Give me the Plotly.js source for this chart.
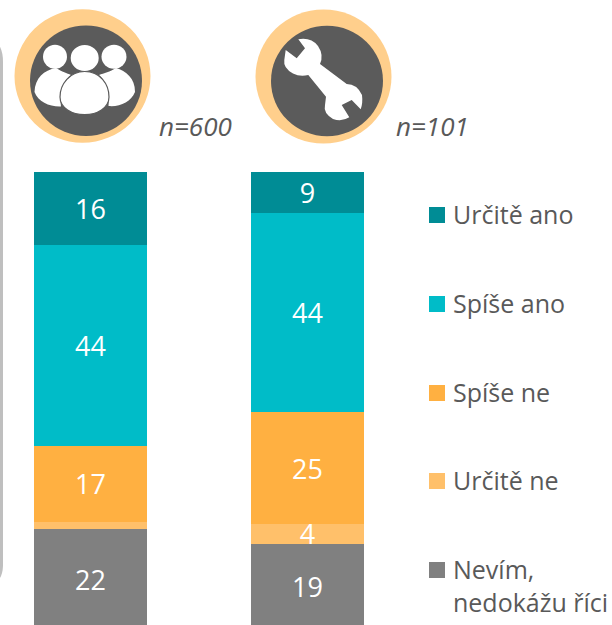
<!DOCTYPE html>
<html>
<head>
<meta charset="utf-8">
<script src="https://cdn.plot.ly/plotly-3.0.1.min.js"></script>
<style>html,body{margin:0;padding:0;background:#fff;overflow:hidden}#c{width:612px;height:629px}</style>
</head>
<body>
<div id="c"></div>
<script>
const groups = ['n=600', 'n=101'];
const seriesNames = ['Nevím,<br>nedokážu říci', 'Určitě ne', 'Spíše ne', 'Spíše ano', 'Určitě ano'];
const seriesColors = ['#808080', '#FFC06A', '#FFB041', '#00BCC8', '#008C95'];
const nevim = [21.8, 18.7];
const urciteNe = [1.7, 4.2];
const spiseNe = [16.5, 24.6];
const spiseAno = [44.0, 43.5];
const urciteAno = [16.0, 9.0];
const nevimLabels = ['22', '19'];
const urciteNeLabels = ['', '4'];
const spiseNeLabels = ['17', '25'];
const spiseAnoLabels = ['44', '44'];
const urciteAnoLabels = ['16', '9'];

const values = [nevim, urciteNe, spiseNe, spiseAno, urciteAno];
const labels = [nevimLabels, urciteNeLabels, spiseNeLabels, spiseAnoLabels, urciteAnoLabels];
const FONT = '"Open Sans", "Noto Sans", sans-serif';
const TEXT = '#595959';

const traces = seriesNames.map((name, i) => ({
  type: 'bar', name, x: groups, y: values[i],
  text: labels[i], textposition: 'inside', insidetextanchor: 'middle',
  textangle: 0, constraintext: 'none',
  textfont: {family: FONT, size: 27, color: '#fff'},
  marker: {color: seriesColors[i], line: {width: 0}},
  hoverinfo: 'skip', showlegend: false, cliponaxis: false
}));
// page-pixel axes for the decorations
traces.push({type: 'scatter', x: [], y: [], xaxis: 'x2', yaxis: 'y2', showlegend: false, hoverinfo: 'skip'});

const PX = {xref: 'x2', yref: 'y2'};
const ell = (cx, cy, rx, ry, c) => ({...PX, type: 'circle', x0: cx - rx, x1: cx + rx, y0: cy - ry, y1: cy + ry, fillcolor: c, line: {width: 0}, layer: 'above'});
const path = (d, c, extra) => ({...PX, type: 'path', path: d, fillcolor: c, line: {width: 0}, layer: 'above', ...extra});
const RING = '#FFCF8C', DARK = '#5B5B5B', W = '#FFFFFF';

const shapes = [
  // panel edge at the left
  {...PX, type: 'path', path: 'M-14,40 L-8,40 Q1.5,46 1.5,62 L1.5,566 Q1,578 -6,582 L-14,582 Z', fillcolor: 'rgba(0,0,0,0)', line: {color: '#BFBFBF', width: 3}, layer: 'above'},
  // people icon
  ell(82.5, 76, 68, 66.7, RING), ell(86, 80.7, 56, 55.3, DARK),
  path('M34.5,92 C35,78 44,70 56,68 C62,72 67,73 71,75 C63,81 59,92 61,106.5 C50,107 38,102 34.5,92 Z', W),
  path('M135,92 C135,78 126,71 116,68 C110,72 104,73 99,75 C106,81 110,92 108.5,106 C120,107 131,102 135,92 Z', W),
  ell(55, 56.7, 12, 12, W), ell(114, 56.7, 12.5, 12, W),
  ell(84.7, 58, 14, 13, W),
  path('M84.7,71.5 C100,71.5 109,84 109,97 C109,108 97,114.7 84.7,114.7 C72,114.7 60,108 60,97 C60,84 70,71.5 84.7,71.5 Z', W, {line: {color: DARK, width: 1.2}}),
  // wrench icon
  ell(323.5, 76.5, 68, 67, RING), ell(327, 81, 56, 55.3, DARK),
  path('M298.3,39.3 Q311,37 318,46 Q324,55 320,64 L346.7,84 Q357,84 362,95 Q363,103 360.7,109.3 L351.7,100 L341.7,105 L349.3,117.3 Q342,122 333,119 Q323,113 325,105 L326,96.7 L308.3,75 Q300,77 293,73.5 Q283,68 284.3,60 L285.7,50 L296.7,58.3 L305,48.3 Z', W)
];

const annotations = [
  {text: 'n=600', x: 195, y: 126},
  {text: 'n=101', x: 432, y: 126}
].map(a => ({
  xref: 'x2', yref: 'y2', x: a.x, y: a.y, text: '<i>' + a.text + '</i>', showarrow: false,
  font: {family: FONT, size: 26, color: TEXT}, xanchor: 'center', yanchor: 'middle'
}));

// key, top to bottom
const keyY = [215, 304, 393, 481, 570];
const keyIdx = [4, 3, 2, 1, 0];
keyIdx.forEach((s, i) => {
  shapes.push({...PX, type: 'rect', x0: 429, x1: 445, y0: keyY[i] - 8, y1: keyY[i] + 8, fillcolor: seriesColors[s], line: {width: 0}, layer: 'above'});
  annotations.push({
    xref: 'x2', yref: 'y2', x: 451, y: s === 0 ? keyY[i] + 15 : keyY[i] - 1, text: seriesNames[s], showarrow: false,
    align: 'left', xanchor: 'left', yanchor: 'middle',
    font: {family: FONT, size: 25, color: TEXT}
  });
});

const layout = {
  width: 612, height: 629, margin: {l: 0, r: 0, t: 0, b: 0, pad: 0},
  paper_bgcolor: '#fff', plot_bgcolor: 'rgba(0,0,0,0)', barmode: 'stack', bargap: 0.479,
  showlegend: false,
  xaxis: {type: 'category', range: [-0.417, 2.403], visible: false, fixedrange: true},
  yaxis: {range: [0, 100.5], domain: [0, 457 * 1.005 / 629], visible: false, fixedrange: true},
  xaxis2: {range: [0, 612], domain: [0, 1], visible: false, fixedrange: true, anchor: 'y2'},
  yaxis2: {range: [629, 0], domain: [0, 1], visible: false, fixedrange: true, anchor: 'x2'},
  shapes, annotations
};
Plotly.newPlot('c', traces, layout, {displayModeBar: false, staticPlot: true});
</script>
</body>
</html>
